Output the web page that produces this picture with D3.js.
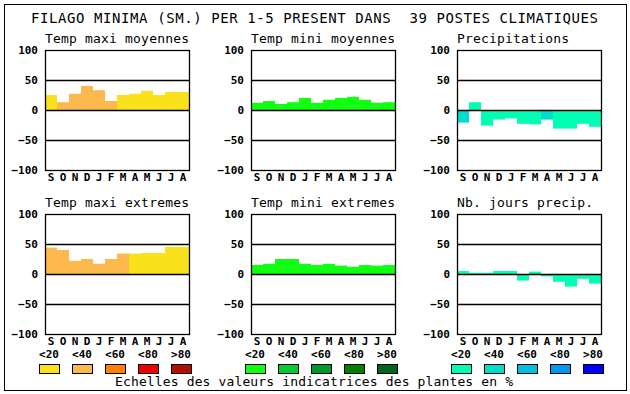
<!DOCTYPE html>
<html>
<head>
<meta charset="utf-8">
<script src="https://cdn.jsdelivr.net/npm/d3@7"></script>
<style>
  body { margin: 0; background: #fff; }
  text { font-family: "DejaVu Sans Mono", monospace; fill: #000; }
</style>
</head>
<body>
<div id="chart"></div>
<script>
// data
const months = ["S", "O", "N", "D", "J", "F", "M", "A", "M", "J", "J", "A"];
const yTicks = [-100, -50, 0, 50, 100];
const legendLabels = ["<20", "<40", "<60", "<80", ">80"];

const titles = [
  "Temp maxi moyennes", "Temp mini moyennes", "Precipitations",
  "Temp maxi extremes", "Temp mini extremes", "Nb. jours precip.",
];

const tmaxMoy = [25, 13, 27, 40, 33, 15, 25, 27, 32, 25, 30, 30];
const tminMoy = [12, 15, 10, 13, 20, 12, 17, 20, 22, 17, 12, 13];
const precip = [-21, 13, -26, -16, -14, -23, -24, -16, -31, -31, -23, -28];
const tmaxExt = [44, 40, 22, 25, 17, 25, 34, 34, 35, 35, 45, 45];
const tminExt = [15, 17, 25, 25, 17, 15, 17, 14, 12, 15, 14, 15];
const nbJours = [5, 2, 2, 5, 5, -11, 4, -4, -13, -21, -8, -16];

// colour class of each bar (index into the legend scale)
const tmaxMoyCls = [0, 1, 1, 1, 1, 1, 0, 0, 0, 0, 0, 0];
const tminMoyCls = [0, 0, 0, 0, 0, 0, 0, 0, 0, 0, 0, 0];
const precipCls = [1, 0, 0, 0, 0, 0, 0, 1, 0, 0, 0, 0];
const tmaxExtCls = [1, 1, 1, 1, 1, 1, 1, 0, 0, 0, 0, 0];
const tminExtCls = [0, 0, 0, 0, 0, 0, 0, 0, 0, 0, 0, 0];
const nbJoursCls = [0, 0, 0, 0, 0, 0, 0, 0, 0, 0, 0, 0];

const warmColors = ["#f9e11b", "#fdb94d", "#ff8000", "#ee0000", "#b01000"];
const greenColors = ["#11ff11", "#00cc33", "#009a2a", "#008000", "#00661e"];
const blueColors = ["#00ffb4", "#00ddcc", "#00bfe0", "#0099ee", "#0000ff"];

const panels = [
  { title: titles[0], values: tmaxMoy, cls: tmaxMoyCls, colors: warmColors },
  { title: titles[1], values: tminMoy, cls: tminMoyCls, colors: greenColors },
  { title: titles[2], values: precip, cls: precipCls, colors: blueColors },
  { title: titles[3], values: tmaxExt, cls: tmaxExtCls, colors: warmColors },
  { title: titles[4], values: tminExt, cls: tminExtCls, colors: greenColors },
  { title: titles[5], values: nbJours, cls: nbJoursCls, colors: blueColors },
];

const width = 630, height = 394;
const plotW = 144, plotH = 120;
const colX = [45, 251, 457];
const rowY = [50, 214];

const svg = d3.select("#chart").append("svg")
  .attr("width", width)
  .attr("height", height);

svg.append("rect")
  .attr("x", 4.5).attr("y", 4.5)
  .attr("width", 622).attr("height", 386)
  .attr("fill", "#fff").attr("stroke", "#000");

svg.append("text")
  .attr("x", 31).attr("y", 23)
  .attr("textLength", 567)
  .attr("lengthAdjust", "spacing")
  .style("font-size", "14px")
  .style("white-space", "pre")
  .text("FILAGO MINIMA (SM.) PER 1-5 PRESENT DANS  39 POSTES CLIMATIQUES");

let x = d3.scaleBand().domain(d3.range(months.length)).range([0, plotW]);
let y = d3.scaleLinear().domain([-100, 100]).range([plotH, 0]);

panels.forEach((p, k) => {
  const g = svg.append("g")
    .attr("transform", `translate(${colX[k % 3]},${rowY[Math.floor(k / 3)]})`);

  g.append("text")
    .attr("x", 0).attr("y", -7)
    .attr("textLength", p.title.length * 8)
    .attr("lengthAdjust", "spacing")
    .style("font-size", "13px")
    .text(p.title);

  g.selectAll("rect.bar")
    .data(p.values)
    .enter()
    .append("rect")
    .attr("class", "bar")
    .attr("x", (d, i) => x(i))
    .attr("width", x.bandwidth())
    .attr("y", (d) => y(Math.max(0, d)))
    .attr("height", (d) => Math.abs(y(d) - y(0)))
    .attr("fill", (d, i) => p.colors[p.cls[i]]);

  g.selectAll("line.grid")
    .data([50, 0, -50])
    .enter()
    .append("line")
    .attr("class", "grid")
    .attr("x1", 0).attr("x2", plotW)
    .attr("y1", (d) => Math.round(y(d)) + 0.5)
    .attr("y2", (d) => Math.round(y(d)) + 0.5)
    .attr("stroke", "#000")
    .attr("stroke-width", 1.3);

  g.append("rect")
    .attr("x", 0.5).attr("y", 0.5)
    .attr("width", plotW).attr("height", plotH)
    .attr("fill", "none").attr("stroke", "#000")
    .attr("stroke-width", 1.3);

  const ay = g.append("g")
    .call(d3.axisLeft(y).tickValues(yTicks).tickSize(0).tickPadding(7));
  ay.select(".domain").remove();
  ay.selectAll("text")
    .style("font-family", '"DejaVu Sans Mono", monospace')
    .style("font-size", "11px")
    .style("font-weight", "bold");

  const ax = g.append("g")
    .attr("transform", `translate(0,${plotH})`)
    .call(d3.axisBottom(x).tickFormat((i) => months[i]).tickSize(0).tickPadding(3));
  ax.select(".domain").remove();
  ax.selectAll("text")
    .style("font-family", '"DejaVu Sans Mono", monospace')
    .style("font-size", "11px")
    .style("font-weight", "bold");
});

// legends under each column
[warmColors, greenColors, blueColors].forEach((colors, c) => {
  const lx = d3.scalePoint()
    .domain(legendLabels)
    .range([colX[c] + 4, colX[c] + 4 + 33 * 4]);

  const lg = svg.append("g");
  lg.selectAll("text")
    .data(legendLabels)
    .enter()
    .append("text")
    .attr("x", (d) => lx(d))
    .attr("y", 358)
    .attr("text-anchor", "middle")
    .style("font-size", "11px")
    .style("font-weight", "bold")
    .text((d) => d);

  lg.selectAll("rect")
    .data(legendLabels)
    .enter()
    .append("rect")
    .attr("x", (d) => lx(d) - 10 + 0.5)
    .attr("y", 364.5)
    .attr("width", 20)
    .attr("height", 9)
    .attr("fill", (d, i) => colors[i])
    .attr("stroke", "#000");
});

svg.append("text")
  .attr("x", 115).attr("y", 386)
  .attr("textLength", 398)
  .attr("lengthAdjust", "spacing")
  .style("font-size", "13px")
  .text("Echelles des valeurs indicatrices des plantes en %");
</script>
</body>
</html>
